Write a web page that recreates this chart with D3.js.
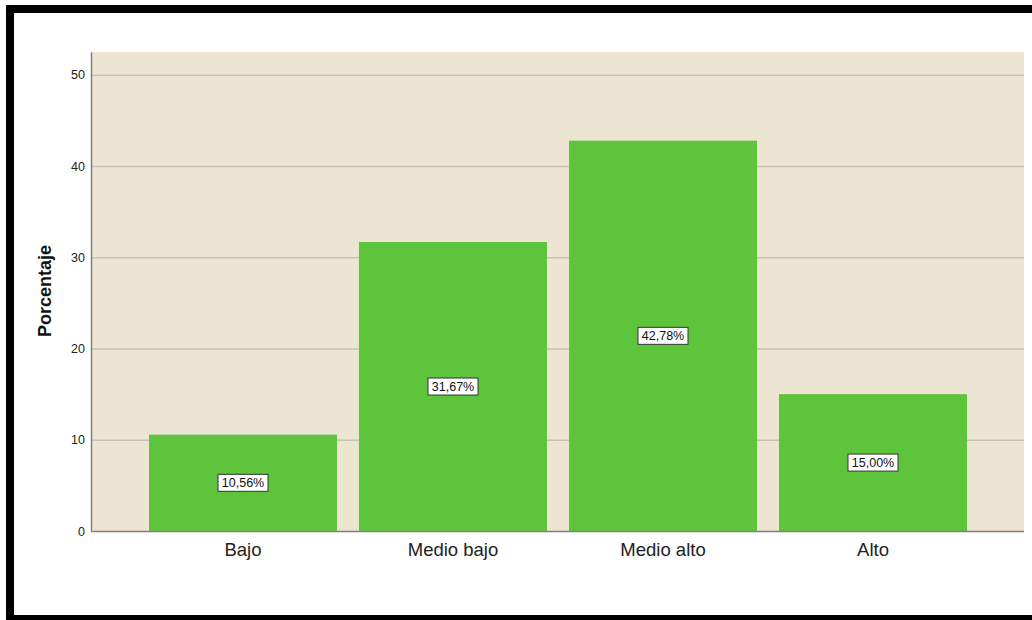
<!DOCTYPE html>
<html><head><meta charset="utf-8">
<script src="https://cdn.jsdelivr.net/npm/d3@7"></script>
<style>html,body{margin:0;background:#fff;overflow:hidden;}svg{display:block;}</style>
</head><body>
<svg id="c" width="1032" height="620"></svg>
<script>
const categories = ["Bajo", "Medio bajo", "Medio alto", "Alto"];
const values = [10.56, 31.67, 42.78, 15.00];
const yTicks = [0, 10, 20, 30, 40, 50];
const yTitle = "Porcentaje";

const FONT = "Arial, 'Liberation Sans', sans-serif";
const svg = d3.select("#c");
svg.append("rect").attr("width", 1032).attr("height", 620).attr("fill", "#fff");
// outer black frame (open on the right)
const frame = svg.append("g").attr("stroke", "#000").attr("stroke-width", 8);
frame.append("line").attr("x1", 6).attr("x2", 1032).attr("y1", 9).attr("y2", 9);
frame.append("line").attr("x1", 10).attr("x2", 10).attr("y1", 5).attr("y2", 620);
frame.append("line").attr("x1", 6).attr("x2", 1032).attr("y1", 619).attr("y2", 619);

const plot = {left: 91, right: 1024, top: 52, bottom: 531};
const y = d3.scaleLinear().domain([0, 52.5]).range([plot.bottom, plot.top]);
const x = d3.scaleBand().domain(categories).range([138, 978]).paddingInner(22/210).paddingOuter(11/210);

svg.append("rect").attr("x", plot.left).attr("y", plot.top)
  .attr("width", plot.right - plot.left).attr("height", plot.bottom - plot.top).attr("fill", "#ebe5d1");

// gridlines
svg.append("g").selectAll("line").data(yTicks.filter(d => d > 0)).join("line")
  .attr("x1", plot.left).attr("x2", plot.right)
  .attr("y1", d => y(d) + 0.5).attr("y2", d => y(d) + 0.5)
  .attr("stroke", "#c6c2b5").attr("stroke-width", 1.5);

// bars
svg.append("g").selectAll("rect").data(values).join("rect")
  .attr("x", (d, i) => x(categories[i])).attr("width", x.bandwidth())
  .attr("y", d => y(d)).attr("height", d => y(0) - y(d))
  .attr("fill", "#5ec43b");

// axes
const yAxis = d3.axisLeft(y).tickValues(yTicks).tickSize(0).tickPadding(6).tickFormat(d3.format("d"));
const gy = svg.append("g").attr("transform", `translate(${plot.left},0)`).call(yAxis);
gy.select(".domain").attr("stroke", "#808080").attr("stroke-width", 1.5);
gy.selectAll("text").attr("font-family", FONT).attr("font-size", 12.5).attr("fill", "#222");

const xAxis = d3.axisBottom(x).tickSize(0).tickPadding(12);
const gx = svg.append("g").attr("transform", `translate(0,${plot.bottom})`).call(xAxis);
gx.select(".domain").remove();
gx.append("line").attr("x1", plot.left).attr("x2", plot.right).attr("y1", 0.5).attr("y2", 0.5)
  .attr("stroke", "#808080").attr("stroke-width", 1.5);
gx.selectAll("text").attr("font-family", FONT).attr("font-size", 18.5).attr("fill", "#222");

// y title
svg.append("text").attr("transform", `translate(51,291) rotate(-90)`)
  .attr("text-anchor", "middle").attr("font-family", FONT)
  .attr("font-weight", "bold").attr("font-size", 18).attr("fill", "#111").text(yTitle);

// value labels
const fmt = d => d.toFixed(2).replace(".", ",") + "%";
const lbl = svg.append("g").selectAll("g").data(values).join("g")
  .attr("transform", (d, i) => `translate(${x(categories[i]) + x.bandwidth() / 2},${y(d / 2)})`);
lbl.append("rect").attr("x", -25).attr("y", -8.5).attr("width", 50).attr("height", 17)
  .attr("fill", "#fff").attr("stroke", "#333").attr("stroke-width", 1);
lbl.append("text").attr("text-anchor", "middle").attr("dy", "0.36em")
  .attr("font-family", FONT).attr("font-size", 12.5).attr("fill", "#111")
  .text(fmt);
</script>
</body></html>
